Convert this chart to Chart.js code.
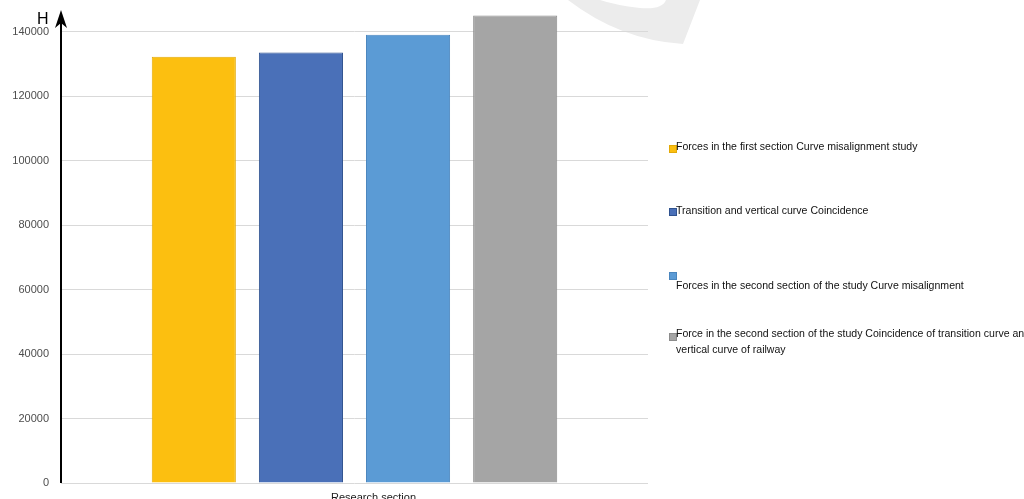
<!DOCTYPE html>
<html>
<head>
<meta charset="utf-8">
<script src="https://cdn.jsdelivr.net/npm/chart.js@4.4.0/dist/chart.umd.min.js"></script>
<style>
  html, body { margin: 0; padding: 0; background: #fff; overflow: hidden; }
  #wrap { position: relative; width: 1024px; height: 499px; }
  #c { position: absolute; left: 0; top: 0; }
  #legend { position: absolute; left: 669px; top: 0; width: 355px; height: 499px; overflow: hidden;
    font-family: "Liberation Sans", Arial, sans-serif; font-size: 11.5px; color: #111; }
  .item { position: absolute; left: 0; white-space: nowrap; line-height: 16px; }
  .box { position: absolute; left: 0; width: 6px; height: 6px; }
  .txt { position: absolute; left: 7px; transform: scaleX(0.917); transform-origin: left top; }
</style>
</head>
<body>
<div id="wrap">
  <canvas id="c" width="1024" height="499"></canvas>
  <div id="legend"></div>
</div>
<script>
const categories = ["Research section"];
const seriesLabels = [
  "Forces in the first section Curve misalignment study",
  "Transition and vertical curve Coincidence",
  "Forces in the second section of the study Curve misalignment",
  ["Force in the second section of the study Coincidence of transition curve and", "vertical curve of railway"]
];
const seriesValues = [132200, 133500, 139000, 145000];
const yTicks = [0, 20000, 40000, 60000, 80000, 100000, 120000, 140000];

const fills = ["#FCBF10", "#4A70B8", "#5B9BD5", "#A5A5A5"];
const borders = ["#E3AA08", "#2F528F", "#4A86BE", "#8C8C8C"];

// legend rows: [text top, box top]
const legendPos = [[138, 145], [202, 208], [277, 272], [325, 333]];

const axisArrow = {
  id: "axisArrow",
  beforeDraw(chart) {
    // faint watermark swoosh in the top right
    const ctx = chart.ctx;
    ctx.save();
    ctx.fillStyle = "#ececec";
    ctx.beginPath();
    ctx.moveTo(568, 0);
    ctx.quadraticCurveTo(620, 40, 683, 44);
    ctx.lineTo(700, 0);
    ctx.lineTo(666, 0);
    ctx.quadraticCurveTo(662, 10, 640, 8);
    ctx.quadraticCurveTo(615, 5, 600, 0);
    ctx.closePath();
    ctx.fill();
    ctx.restore();
  },
  afterDraw(chart) {
    const ctx = chart.ctx;
    const a = chart.chartArea;
    const x = a.left;
    ctx.save();
    ctx.strokeStyle = "#000";
    ctx.fillStyle = "#000";
    ctx.lineWidth = 2;
    ctx.beginPath();
    ctx.moveTo(x, a.bottom);
    ctx.lineTo(x, a.top + 4);
    ctx.stroke();
    ctx.beginPath();
    ctx.moveTo(x, a.top);
    ctx.lineTo(x + 6, a.top + 18);
    ctx.lineTo(x, a.top + 13);
    ctx.lineTo(x - 6, a.top + 18);
    ctx.closePath();
    ctx.fill();
    ctx.font = "16px 'Liberation Sans', Arial, sans-serif";
    ctx.textBaseline = "top";
    ctx.fillText("H", 37, 12);
    ctx.restore();
  }
};

new Chart(document.getElementById("c"), {
  type: "bar",
  data: {
    labels: categories,
    datasets: seriesValues.map((v, i) => ({
      label: seriesLabels[i],
      data: [v],
      backgroundColor: fills[i],
      borderColor: borders[i],
      borderWidth: 1,
      barPercentage: 0.785,
      categoryPercentage: 0.73
    }))
  },
  options: {
    responsive: false,
    animation: false,
    layout: { padding: { left: 0, right: 376, top: 10, bottom: 0 } },
    plugins: { legend: { display: false }, tooltip: { enabled: false } },
    scales: {
      x: {
        grid: { display: false, drawTicks: false },
        border: { display: false },
        ticks: {
          color: "#1a1a1a",
          font: { family: "'Liberation Sans', Arial, sans-serif", size: 11 },
          padding: 8,
          labelOffset: 19
        },
        afterFit(s) { s.height = 16; s.paddingLeft = 0; s.paddingRight = 0; }
      },
      y: {
        min: 0,
        max: 146700,
        border: { display: false },
        grid: { color: "#d9d9d9", lineWidth: 1, drawTicks: false },
        ticks: {
          color: "#4d4d4d",
          font: { family: "'Liberation Sans', Arial, sans-serif", size: 11 },
          padding: 12,
          callback: v => String(v)
        },
        afterBuildTicks(s) { s.ticks = yTicks.map(v => ({ value: v })); },
        afterFit(s) { s.width = 61; s.paddingTop = 0; s.paddingBottom = 0; }
      }
    }
  },
  plugins: [axisArrow]
});

const leg = document.getElementById("legend");
seriesLabels.forEach((lab, i) => {
  const item = document.createElement("div");
  item.className = "item";
  item.style.top = "0px";
  const box = document.createElement("div");
  box.className = "box";
  box.style.top = legendPos[i][1] + "px";
  box.style.background = fills[i];
  box.style.border = "0.5px solid " + borders[i];
  const txt = document.createElement("div");
  txt.className = "txt";
  txt.style.top = legendPos[i][0] + "px";
  txt.innerHTML = (Array.isArray(lab) ? lab : [lab]).join("<br>");
  item.appendChild(box);
  item.appendChild(txt);
  leg.appendChild(item);
});
</script>
</body>
</html>
